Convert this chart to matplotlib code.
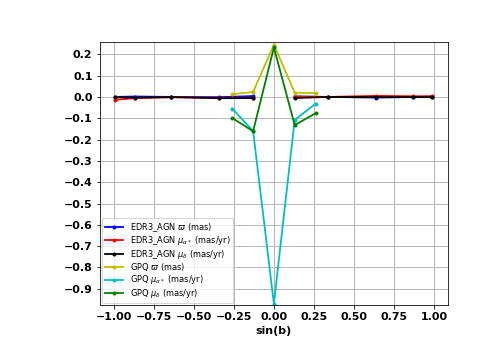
import numpy as np
import matplotlib
matplotlib.use("Agg")
import matplotlib.pyplot as plt

# sin(b) bin centres
x_edr3 = [-0.99, -0.87, -0.64, -0.34, -0.13, np.nan, 0.13, 0.34, 0.64, 0.87, 0.99]
x_gpq = [-0.26, -0.13, 0.0, 0.13, 0.26]

edr3_plx = [0.0, 0.002, 0.0, -0.001, 0.004, np.nan, 0.002, 0.0, -0.003, 0.0, 0.002]
edr3_pmra = [-0.013, -0.006, -0.001, -0.004, -0.004, np.nan, 0.002, 0.0, 0.005, 0.003, 0.003]
edr3_pmdec = [-0.001, -0.003, -0.001, -0.006, -0.005, np.nan, -0.005, 0.0, -0.001, -0.001, -0.001]

gpq_plx = [0.013, 0.023, 0.246, 0.02, 0.018]
gpq_pmra = [-0.055, -0.16, -0.97, -0.108, -0.032]
gpq_pmdec = [-0.099, -0.161, 0.232, -0.132, -0.077]

fig = plt.figure(figsize=(498 / 72, 346 / 72), dpi=72)
ax = fig.add_subplot(111)
fig.subplots_adjust(left=0.2, right=0.9, top=0.88, bottom=0.118)

ax.plot(x_edr3, edr3_plx, 'b.-', lw=1.8, label=r'EDR3_AGN $\varpi$ (mas)')
ax.plot(x_edr3, edr3_pmra, 'r.-', lw=1.8, label=r'EDR3_AGN $\mu_{\alpha*}$ (mas/yr)')
ax.plot(x_edr3, edr3_pmdec, 'k.-', lw=1.8, label=r'EDR3_AGN $\mu_{\delta}$ (mas/yr)')
ax.plot(x_gpq, gpq_plx, 'y.-', lw=1.8, label=r'GPQ $\varpi$ (mas)')
ax.plot(x_gpq, gpq_pmra, 'c.-', lw=1.8, label=r'GPQ $\mu_{\alpha*}$ (mas/yr)')
ax.plot(x_gpq, gpq_pmdec, 'g.-', lw=1.8, label=r'GPQ $\mu_{\delta}$ (mas/yr)')

ax.set_ylim(-0.977, 0.26)
ax.set_yticks(np.arange(-0.9, 0.25, 0.1))
ax.set_xticks(np.arange(-1.0, 1.01, 0.25))
ax.grid(True, color='#b8b8b8', lw=1.0)
ax.set_xlabel('sin(b)', fontsize=11, fontweight='bold')
ax.tick_params(labelsize=11)
plt.setp(ax.get_xticklabels(), fontweight='bold')
plt.setp(ax.get_yticklabels(), fontweight='bold')
ax.legend(loc='lower left', fontsize=8.2, labelspacing=0.05, handlelength=2.2,
          borderpad=0.35, borderaxespad=0.3)

plt.savefig('out.png', dpi=72)
